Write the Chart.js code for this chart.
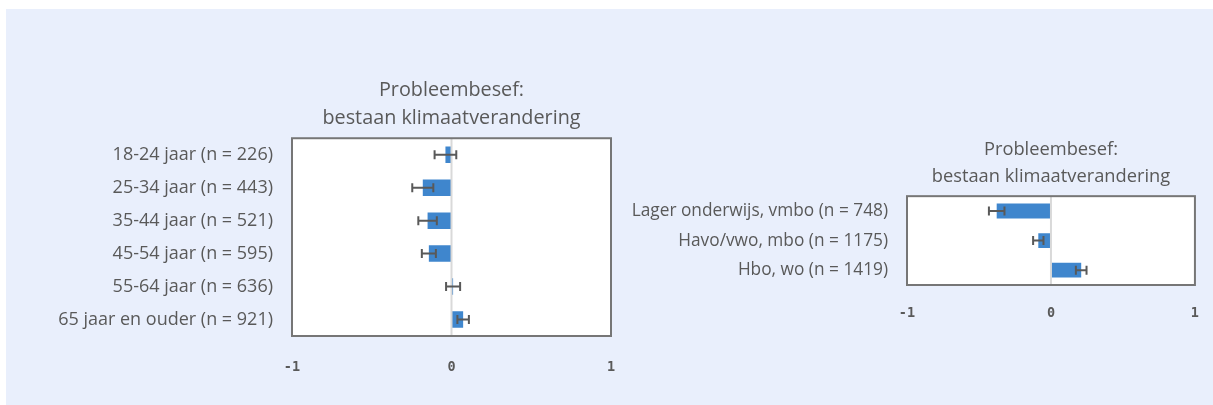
<!DOCTYPE html>
<html>
<head>
<meta charset="utf-8">
<script src="https://cdn.jsdelivr.net/npm/chart.js@4.4.1/dist/chart.umd.min.js"></script>
<style>
  html, body { margin: 0; padding: 0; background: #fff; }
  body { width: 1213px; height: 405px; position: relative; overflow: hidden; }
  #bg { position: absolute; left: 6px; top: 9px; right: 0; bottom: 0; background: #e9effc; }
  .box { position: absolute; }
  #ageBox { left: 0; top: 60px; width: 640px; height: 330px; }
  #eduBox { left: 600px; top: 120px; width: 619px; height: 220px; }
</style>
</head>
<body>
<div id="bg"></div>
<div class="box" id="ageBox"><canvas id="ageChart"></canvas></div>
<div class="box" id="eduBox"><canvas id="eduChart"></canvas></div>
<script>
const titleLines = ["Probleembesef:", "bestaan klimaatverandering"];
const xTicks = [-1, 0, 1];

// leeftijd
const ageLabels = [
  "18-24 jaar (n = 226)",
  "25-34 jaar (n = 443)",
  "35-44 jaar (n = 521)",
  "45-54 jaar (n = 595)",
  "55-64 jaar (n = 636)",
  "65 jaar en ouder (n = 921)"
];
const ageValues = [-0.038, -0.18, -0.15, -0.142, 0.01, 0.073];
const ageErrors = [0.068, 0.066, 0.058, 0.044, 0.044, 0.036];

// opleiding
const eduLabels = [
  "Lager onderwijs, vmbo (n = 748)",
  "Havo/vwo, mbo (n = 1175)",
  "Hbo, wo (n = 1419)"
];
const eduValues = [-0.377, -0.088, 0.21];
const eduErrors = [0.054, 0.036, 0.037];

const textColor = "#595959";
const barColor = "#3f86cd";

// white plot box, zero line, error bars and frame
const panelPlugin = {
  id: "panel",
  beforeDraw(chart) {
    const a = chart.chartArea;
    const ctx = chart.ctx;
    ctx.save();
    ctx.fillStyle = "#ffffff";
    ctx.fillRect(a.left, a.top, a.right - a.left, a.bottom - a.top);
    ctx.restore();
  },
  afterDatasetsDraw(chart, args, opts) {
    const a = chart.chartArea;
    const ctx = chart.ctx;
    const x = chart.scales.x;
    const meta = chart.getDatasetMeta(0);
    const values = chart.data.datasets[0].data;
    ctx.save();

    const x0 = x.getPixelForValue(0);
    ctx.strokeStyle = "#d9d9d9";
    ctx.lineWidth = 2;
    ctx.beginPath();
    ctx.moveTo(x0, a.top);
    ctx.lineTo(x0, a.bottom);
    ctx.stroke();

    ctx.strokeStyle = textColor;
    ctx.lineWidth = 2;
    meta.data.forEach((bar, i) => {
      const lo = x.getPixelForValue(values[i] - opts.errors[i]);
      const hi = x.getPixelForValue(values[i] + opts.errors[i]);
      const y = bar.y;
      ctx.beginPath();
      ctx.moveTo(lo, y);
      ctx.lineTo(hi, y);
      ctx.moveTo(lo, y - 4.5);
      ctx.lineTo(lo, y + 4.5);
      ctx.moveTo(hi, y - 4.5);
      ctx.lineTo(hi, y + 4.5);
      ctx.stroke();
    });

    ctx.strokeStyle = "#767676";
    ctx.lineWidth = 2;
    ctx.strokeRect(a.left, a.top, a.right - a.left, a.bottom - a.top);
    ctx.restore();
  }
};

function makeChart(canvasId, labels, values, errors, cfg) {
  const ctx = document.getElementById(canvasId).getContext("2d");
  return new Chart(ctx, {
    type: "bar",
    data: {
      labels: labels,
      datasets: [{
        data: values,
        backgroundColor: barColor,
        borderWidth: 0,
        barPercentage: 0.5,
        categoryPercentage: 1
      }]
    },
    plugins: [panelPlugin],
    options: {
      indexAxis: "y",
      responsive: true,
      maintainAspectRatio: false,
      animation: false,
      layout: { padding: cfg.padding },
      plugins: {
        legend: { display: false },
        tooltip: { enabled: false },
        title: {
          display: true,
          text: titleLines,
          fullSize: false,
          color: textColor,
          font: { family: "Open Sans", size: cfg.titleSize, weight: "normal", lineHeight: cfg.titleLine },
          padding: { top: 0, bottom: 6 }
        },
        panel: { errors: errors }
      },
      scales: {
        x: {
          min: -1,
          max: 1,
          afterBuildTicks: (s) => { s.ticks = xTicks.map(v => ({ value: v })); },
          afterFit: (s) => { s.height = 50; },
          grid: { display: false, drawTicks: false },
          border: { display: false },
          ticks: {
            color: textColor,
            padding: cfg.xPad,
            font: { family: "DejaVu Sans Mono", size: 13.5, weight: "bold" }
          }
        },
        y: {
          afterFit: (s) => { s.width = cfg.yWidth; },
          grid: { display: false, drawTicks: false },
          border: { display: false },
          ticks: {
            color: textColor,
            padding: 19,
            font: { family: "Open Sans", size: cfg.labelSize }
          }
        }
      }
    }
  });
}

makeChart("ageChart", ageLabels, ageValues, ageErrors, {
  padding: { top: 16, right: 29, bottom: 4, left: 0 },
  yWidth: 292, xPad: 23, titleSize: 19.8, titleLine: 1.42, labelSize: 18
});

makeChart("eduChart", eduLabels, eduValues, eduErrors, {
  padding: { top: 16, right: 24, bottom: 5, left: 0 },
  yWidth: 307, xPad: 20, titleSize: 18.3, titleLine: 1.48, labelSize: 17.3
});
</script>
</body>
</html>
